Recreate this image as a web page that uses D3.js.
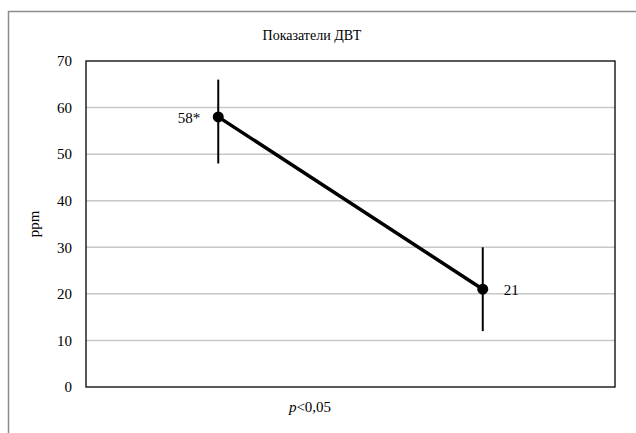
<!DOCTYPE html>
<html>
<head>
<meta charset="utf-8">
<script src="https://cdn.jsdelivr.net/npm/d3@7"></script>
<style>
  body { margin: 0; background: #fff; }
</style>
</head>
<body>
<script>
var categories = ["A", "B"];
var values = [58, 21];
var upper = [66, 30];
var lower = [48, 12];
var pointLabels = ["58*", "21"];
var yTicks = [0, 10, 20, 30, 40, 50, 60, 70];

var W = 636, H = 433;
var margin = {top: 61, right: 21, bottom: 46, left: 86};
var width = W - margin.left - margin.right,
    height = H - margin.top - margin.bottom;
var serif = "'Liberation Serif', 'DejaVu Serif', serif";

var svg = d3.select("body").append("svg")
    .attr("width", W).attr("height", H)
    .attr("font-family", serif);

// outer frame
svg.append("rect")
   .attr("x", 8.5).attr("y", 11.5)
   .attr("width", 700).attr("height", 500)
   .attr("fill", "none").attr("stroke", "#8c8c8c").attr("stroke-width", 1.5);

svg.append("text")
   .attr("x", 312).attr("y", 40)
   .attr("text-anchor", "middle")
   .attr("font-family", serif)
   .attr("font-size", 14)
   .text("Показатели ДВТ");

var g = svg.append("g").attr("transform", "translate(" + margin.left + "," + margin.top + ")");

var x = d3.scalePoint().domain(categories).range([0, width]).padding(0.5);
var y = d3.scaleLinear().domain([0, 70]).range([height, 0]);

// gridlines
g.selectAll(".grid").data(yTicks.slice(1, -1)).enter().append("line")
  .attr("x1", 0).attr("x2", width)
  .attr("y1", function(d){ return y(d); }).attr("y2", function(d){ return y(d); })
  .attr("stroke", "#c8c8c8").attr("stroke-width", 1.5);

g.append("rect")
  .attr("x", 0).attr("y", 0).attr("width", width).attr("height", height)
  .attr("fill", "none").attr("stroke", "#000").attr("stroke-width", 1.3);

var yAxis = d3.axisLeft(y).tickValues(yTicks).tickSize(0).tickPadding(14);
g.append("g").call(yAxis)
  .attr("font-family", serif)
  .attr("font-size", 15)
  .call(function(s){ s.select(".domain").remove(); })
  .selectAll("text").attr("fill", "#000");

svg.append("text")
   .attr("transform", "translate(39," + (margin.top + height / 2) + ") rotate(-90)")
   .attr("text-anchor", "middle")
   .attr("font-family", serif)
   .attr("font-size", 15)
   .text("ppm");

// error bars
g.selectAll(".err").data(categories).enter().append("line")
  .attr("x1", function(d){ return x(d); }).attr("x2", function(d){ return x(d); })
  .attr("y1", function(d, i){ return y(upper[i]); })
  .attr("y2", function(d, i){ return y(lower[i]); })
  .attr("stroke", "#000").attr("stroke-width", 2);

var line = d3.line()
  .x(function(d, i){ return x(categories[i]); })
  .y(function(d){ return y(d); });

g.append("path").datum(values)
  .attr("d", line)
  .attr("fill", "none").attr("stroke", "#000").attr("stroke-width", 3.5);

g.selectAll(".dot").data(values).enter().append("circle")
  .attr("cx", function(d, i){ return x(categories[i]); })
  .attr("cy", function(d){ return y(d); })
  .attr("r", 5.5).attr("fill", "#000");

g.selectAll(".lbl").data(values).enter().append("text")
  .attr("x", function(d, i){ return x(categories[i]) + (i === 0 ? -18 : 21); })
  .attr("y", function(d){ return y(d) + 6; })
  .attr("text-anchor", function(d, i){ return i === 0 ? "end" : "start"; })
  .attr("font-family", serif)
  .attr("font-size", 15)
  .text(function(d, i){ return pointLabels[i]; });

var xt = svg.append("text")
  .attr("x", 310).attr("y", 412)
  .attr("text-anchor", "middle")
  .attr("font-family", serif)
  .attr("font-size", 15);
xt.append("tspan").attr("font-style", "italic").text("p");
xt.append("tspan").text("<0,05");
</script>
</body>
</html>
